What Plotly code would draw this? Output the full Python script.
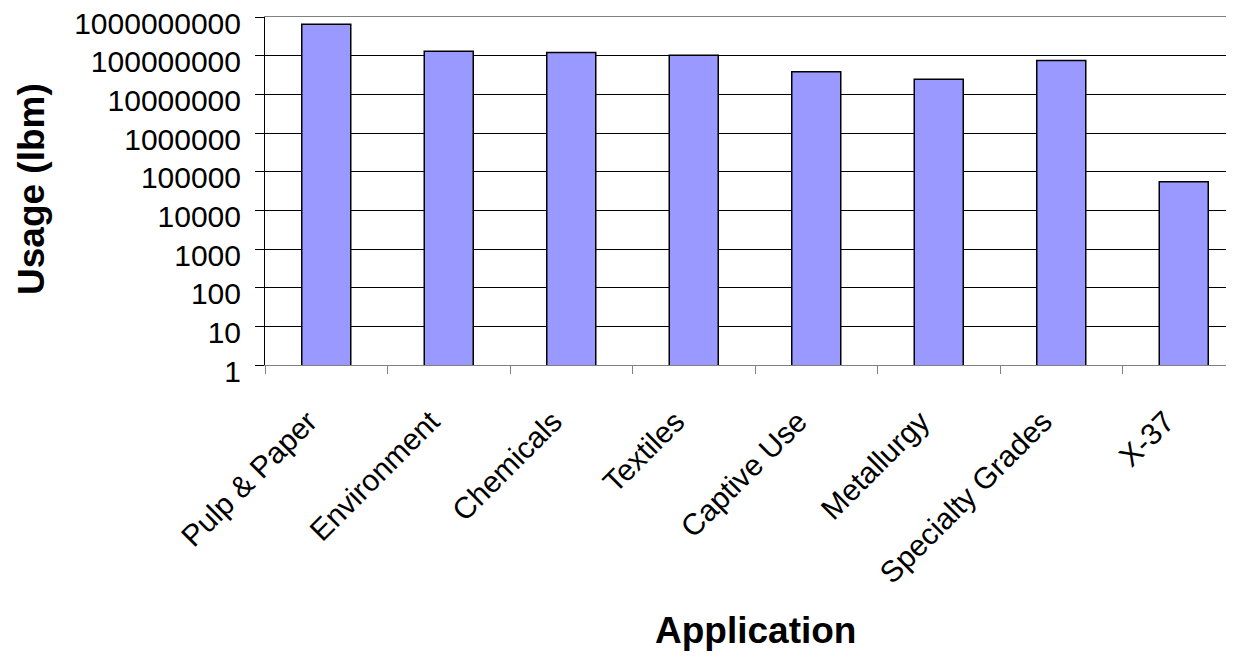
import plotly.graph_objects as go

categories = ["Pulp & Paper", "Environment", "Chemicals", "Textiles",
              "Captive Use", "Metallurgy", "Specialty Grades", "X-37"]
usage_lbm = [6.5e8, 1.3e8, 1.2e8, 1.02e8, 3.85e7, 2.45e7, 7.5e7, 5.5e4]

tick_values = [1, 10, 100, 1000, 10000, 100000, 1000000, 10000000, 100000000, 1000000000]
tick_labels = ["1", "10", "100", "1000", "10000", "100000", "1000000",
               "10000000", "100000000", "1000000000"]

x_title = "Application"
y_title = "Usage (lbm)"

FONT = "Liberation Sans, Arial, sans-serif"

# The page body has an 8px default margin; the figure is sized/placed to compensate.
OFF = 8
W, H = 1234 - OFF, 659 - 2 * OFF
# target plot area on screen: left 265, top 17, bottom 365, right edge of window
L = 265 - OFF
T = 17 - OFF
B = H - (365 - OFF)
R = 0
plot_w = W - L - R
plot_h = H - T - B
cat_px = 122.5  # px per category in the original (plot continues past the right edge)


def px_to_paper(sx, sy):
    return (sx - 265) / plot_w, (365 - sy) / plot_h


fig = go.Figure(go.Bar(
    x=categories,
    y=usage_lbm,
    width=0.4,
    marker=dict(color="#9999FF", line=dict(color="#000000", width=1.5)),
))

ax_x, ax_y = px_to_paper(755, 630)
ay_x, ay_y = px_to_paper(32, 189)

fig.update_layout(
    width=W, height=H,
    margin=dict(l=L, r=R, t=T, b=B, pad=0, autoexpand=False),
    paper_bgcolor="white", plot_bgcolor="white",
    showlegend=False,
    font=dict(family=FONT, color="black"),
    xaxis=dict(
        type="category",
        range=[-0.5, -0.5 + plot_w / cat_px],
        tickson="boundaries",
        ticks="outside", ticklen=8, tickcolor="#808080", tickwidth=1,
        showline=True, linecolor="#808080", linewidth=1, mirror=True,
        showgrid=False,
        tickangle=-45,
        tickfont=dict(size=30, family=FONT, color="black"),
        ticklabelstandoff=26,
        ticklabelshift=-18,
        automargin=False,
    ),
    yaxis=dict(
        type="log",
        range=[0, 9],
        tickvals=tick_values, ticktext=tick_labels,
        ticks="outside", ticklen=9, tickcolor="#000000", tickwidth=1,
        showline=True, linecolor="#000000", linewidth=1,
        showgrid=True, gridcolor="#000000", gridwidth=1,
        tickfont=dict(size=30, family=FONT, color="black"),
        ticklabelstandoff=8,
        ticklabelshift=6,
        ticklabeloverflow="allow",
        zeroline=False,
        automargin=False,
    ),
    annotations=[
        dict(text=x_title, xref="paper", yref="paper",
             x=ax_x, y=ax_y,
             xanchor="center", yanchor="middle", showarrow=False,
             font=dict(size=37, family=FONT, color="black", weight="bold")),
        dict(text=y_title, xref="paper", yref="paper",
             x=ay_x, y=ay_y,
             xanchor="center", yanchor="middle", showarrow=False, textangle=-90,
             font=dict(size=37, family=FONT, color="black", weight="bold")),
    ],
)

fig.write_html("out.html")
